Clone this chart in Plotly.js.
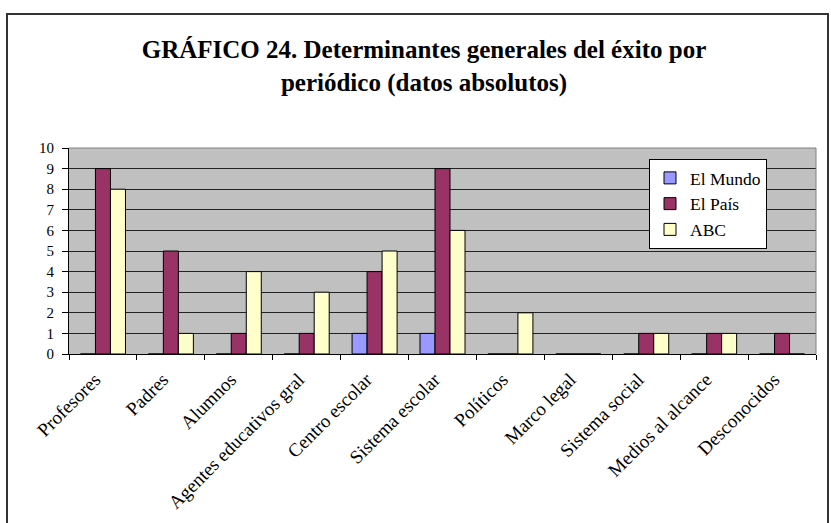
<!DOCTYPE html>
<html>
<head>
<meta charset="utf-8">
<script src="https://cdn.plot.ly/plotly-3.0.1.min.js"></script>
<style>html,body{margin:0;padding:0;background:#fff;}#chart{width:831px;height:523px;}</style>
</head>
<body>
<div id="chart"></div>
<script>
const categories = ["Profesores", "Padres", "Alumnos", "Agentes educativos gral", "Centro escolar", "Sistema escolar", "Políticos", "Marco legal", "Sistema social", "Medios al alcance", "Desconocidos"];
const elMundo = [0, 0, 0, 0, 1, 1, 0, 0, 0, 0, 0];
const elPais  = [9, 5, 1, 1, 4, 9, 0, 0, 1, 1, 1];
const abc     = [8, 1, 4, 3, 5, 6, 2, 0, 1, 1, 0];
const seriesNames = ["El Mundo", "El País", "ABC"];
const yTicks = [0, 1, 2, 3, 4, 5, 6, 7, 8, 9, 10];

const colors = ["#9999FF", "#993366", "#FFFFCC"];
const values = [elMundo, elPais, abc];
const FONT = '"Liberation Serif", "Times New Roman", Times, serif';

const traces = values.map((v, i) => ({
  type: "bar",
  name: seriesNames[i],
  x: categories,
  y: v,
  legendgroup: "g" + i,
  marker: {color: colors[i], line: {color: "#000", width: 1}},
  hoverinfo: "x+y+name"
}));

const L = 69, R = 816, T = 148, B = 354;
const W = 831, H = 523;
const px = x => (x - L) / (R - L);
const py = y => (B - y) / (B - T);

const layout = {
  width: W, height: H,
  margin: {l: L, r: W - R, t: T, b: H - B, pad: 0},
  paper_bgcolor: "#ffffff",
  plot_bgcolor: "#C0C0C0",
  font: {family: FONT, color: "#000"},
  title: {
    text: "<b>GRÁFICO 24. Determinantes generales del éxito por<br>periódico (datos absolutos)</b>",
    font: {family: FONT, size: 25, color: "#000"},
    x: 424 / W, xref: "container", xanchor: "center",
    y: 1 - 58 / H, yref: "container", yanchor: "top"
  },
  barmode: "group",
  bargap: 0.337,
  bargroupgap: 0,
  showlegend: true,
  legend: {
    x: px(649), y: py(159), xanchor: "left", yanchor: "top",
    bgcolor: "#ffffff", bordercolor: "#000", borderwidth: 1,
    font: {family: FONT, size: 17.5, color: "#000"},
    tracegroupgap: 5,
    traceorder: "normal",
    itemwidth: 30
  },
  xaxis: {
    type: "category",
    showgrid: false,
    showline: true, linecolor: "#000", linewidth: 1,
    ticks: "outside", ticklen: 5, tickcolor: "#000", tickwidth: 1,
    tickson: "boundaries",
    tickangle: -45,
    ticklabelshift: -8,
    ticklabelstandoff: 6,
    tickfont: {family: FONT, size: 19, color: "#000"},
    zeroline: false,
    fixedrange: true
  },
  yaxis: {
    range: [0, 10],
    tickvals: yTicks,
    ticktext: yTicks.map(String),
    showgrid: true, gridcolor: "#222", gridwidth: 1,
    showline: true, linecolor: "#000", linewidth: 1,
    ticks: "outside", ticklen: 6, tickcolor: "#000", tickwidth: 1,
    ticklabelstandoff: 5,
    tickfont: {family: FONT, size: 15, color: "#000"},
    zeroline: false,
    fixedrange: true
  },
  shapes: [
    {type: "rect", xref: "paper", yref: "paper", x0: px(7), x1: px(828), y0: py(535), y1: py(14),
     line: {color: "#333", width: 2}, fillcolor: "rgba(0,0,0,0)", layer: "below"},
    {type: "line", xref: "paper", yref: "paper", x0: 0, x1: 1, y0: 1, y1: 1,
     line: {color: "#808080", width: 1}, layer: "above"},
    {type: "line", xref: "paper", yref: "paper", x0: 1, x1: 1, y0: 0, y1: 1,
     line: {color: "#808080", width: 1}, layer: "above"}
  ]
};

Plotly.newPlot("chart", traces, layout, {displayModeBar: false, staticPlot: true});
</script>
</body>
</html>
